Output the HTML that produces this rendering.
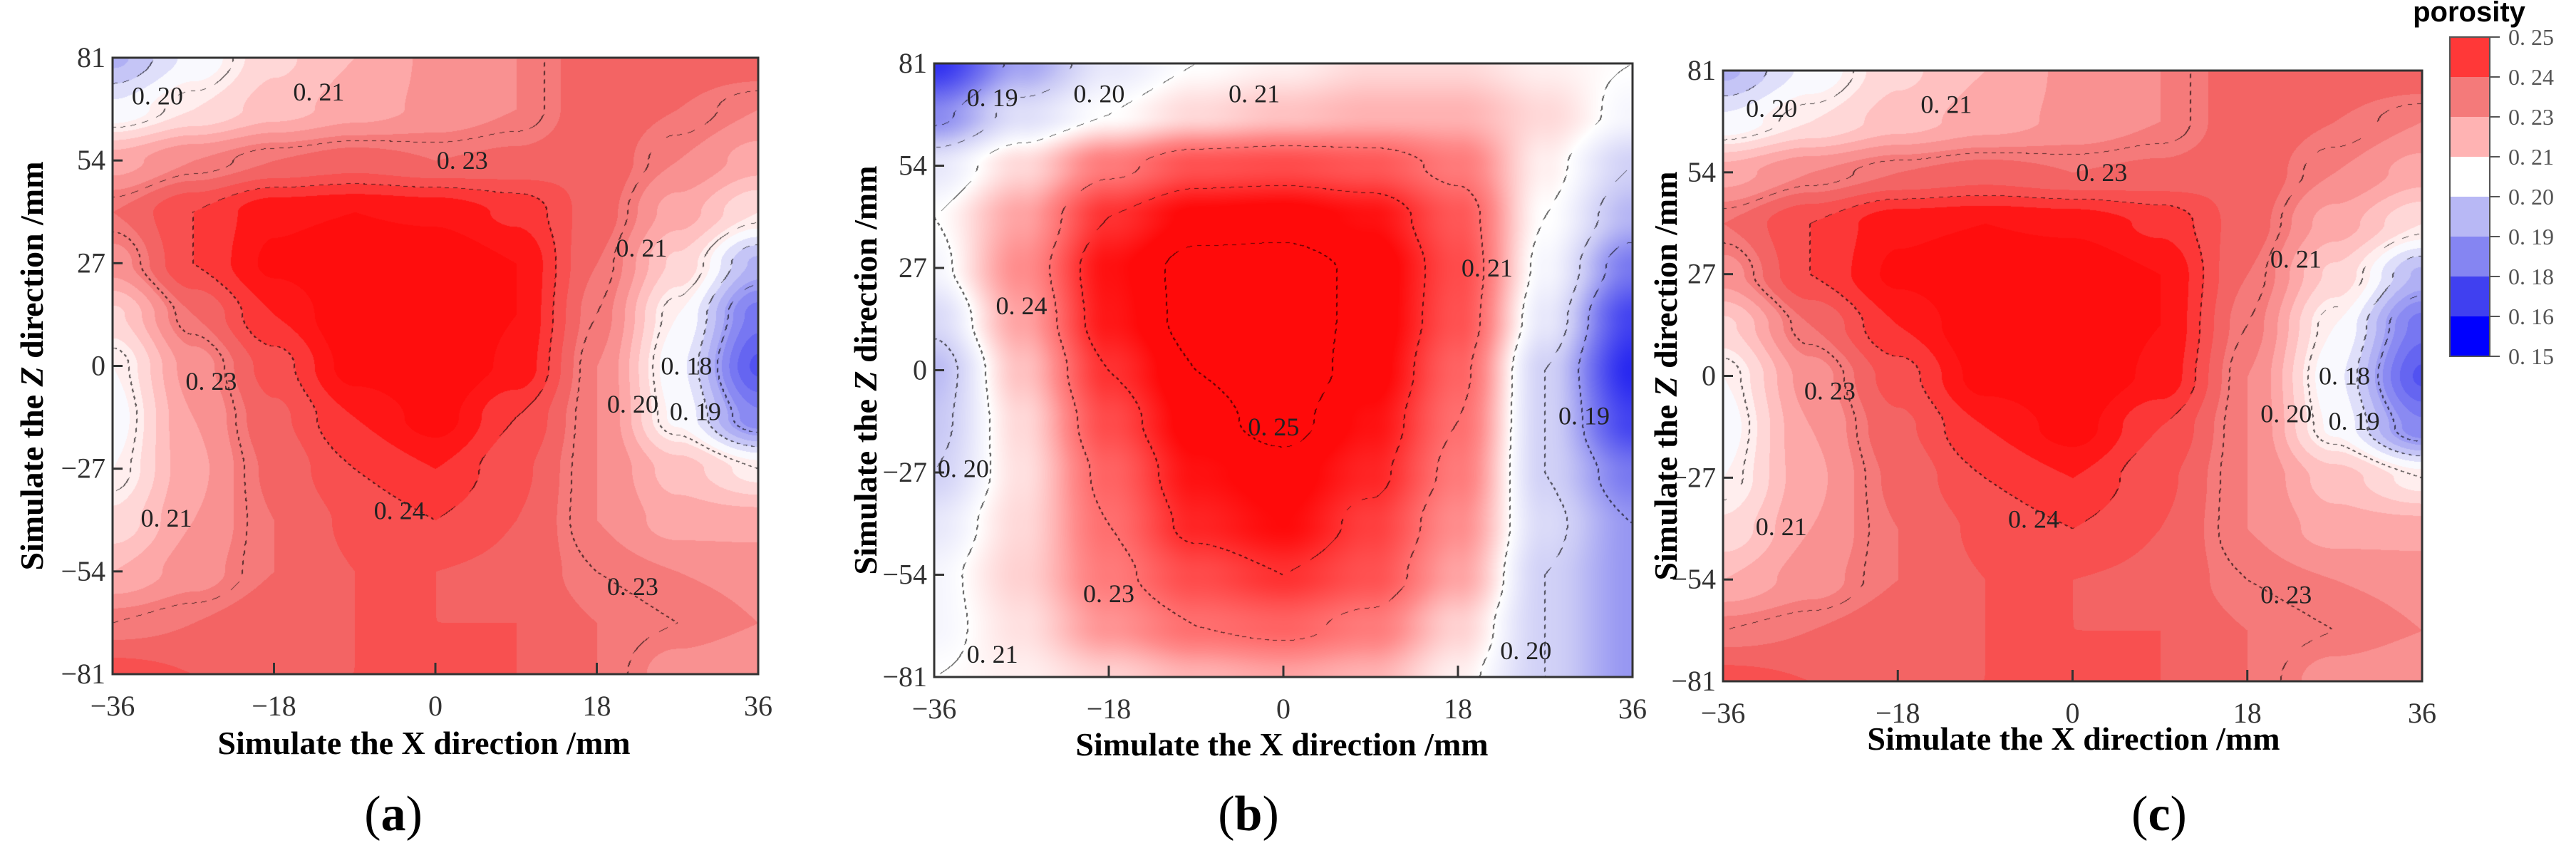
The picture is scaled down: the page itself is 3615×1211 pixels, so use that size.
<!DOCTYPE html>
<html><head><meta charset="utf-8">
<style>
html,body{margin:0;padding:0;background:#fff;}
body{width:3615px;height:1211px;position:relative;overflow:hidden;font-family:"Liberation Serif",serif;}
canvas{position:absolute;}
svg{position:absolute;left:0;top:0;}
</style></head>
<body>
<svg id="svg" width="3615" height="1211"></svg>
<script>
// ---------- data ----------
const xTicks = [-36,-18,0,18,36];
const zTicks = [81,54,27,0,-27,-54,-81];
const gridX = [-36,-27,-18,-9,0,9,18,27,36];
const gridZ = [81,67.5,54,40.5,27,13.5,0,-13.5,-27,-40.5,-54,-67.5,-81];
const porosityA = [
[0.195,0.205,0.215,0.220,0.225,0.228,0.235,0.235,0.235],
[0.205,0.212,0.218,0.222,0.225,0.228,0.235,0.232,0.228],
[0.222,0.228,0.232,0.234,0.232,0.233,0.235,0.228,0.222],
[0.232,0.240,0.247,0.248,0.247,0.243,0.234,0.222,0.212],
[0.226,0.240,0.249,0.252,0.252,0.248,0.232,0.215,0.195],
[0.215,0.232,0.244,0.252,0.252,0.248,0.230,0.208,0.182],
[0.208,0.226,0.238,0.250,0.252,0.247,0.228,0.205,0.175],
[0.206,0.224,0.235,0.244,0.250,0.240,0.228,0.207,0.185],
[0.208,0.223,0.233,0.240,0.244,0.237,0.228,0.218,0.210],
[0.213,0.224,0.232,0.237,0.240,0.236,0.228,0.222,0.222],
[0.220,0.226,0.232,0.236,0.236,0.235,0.230,0.228,0.227],
[0.230,0.232,0.235,0.236,0.236,0.236,0.232,0.230,0.228],
[0.238,0.236,0.236,0.236,0.236,0.236,0.232,0.226,0.224]];
const porosityB = [
[0.172,0.192,0.205,0.210,0.212,0.215,0.215,0.212,0.210],
[0.188,0.203,0.210,0.215,0.218,0.220,0.220,0.215,0.208],
[0.205,0.215,0.228,0.235,0.236,0.234,0.228,0.212,0.200],
[0.210,0.222,0.240,0.247,0.248,0.245,0.234,0.210,0.195],
[0.208,0.225,0.245,0.252,0.252,0.249,0.236,0.208,0.185],
[0.202,0.222,0.244,0.252,0.252,0.249,0.235,0.205,0.175],
[0.196,0.218,0.240,0.250,0.253,0.248,0.232,0.200,0.170],
[0.198,0.215,0.236,0.248,0.252,0.245,0.230,0.200,0.175],
[0.200,0.214,0.232,0.245,0.248,0.242,0.228,0.200,0.185],
[0.205,0.215,0.230,0.242,0.246,0.238,0.225,0.202,0.190],
[0.208,0.216,0.228,0.236,0.240,0.235,0.222,0.200,0.190],
[0.208,0.214,0.224,0.230,0.232,0.228,0.216,0.200,0.190],
[0.210,0.212,0.216,0.220,0.222,0.220,0.212,0.200,0.190]];
const porosityC = porosityA;
const contourLevelsAC = [0.19,0.20,0.21,0.23,0.24];
const contourLevelsB = [0.19,0.20,0.21,0.23,0.24,0.25];
const labelsA = [["0. 20",-31,71],["0. 21",-13,72],["0. 23",3,54],["0. 21",23,31],["0. 18",28,0],["0. 20",22,-10],["0. 19",29,-12],["0. 23",-25,-4],["0. 24",-4,-38],["0. 21",-30,-40],["0. 23",22,-58]];
const labelsB = [["0. 19",-30,72],["0. 20",-19,73],["0. 21",-3,73],["0. 24",-27,17],["0. 21",21,27],["0. 25",-1,-15],["0. 19",31,-12],["0. 20",-33,-26],["0. 23",-18,-59],["0. 21",-30,-75],["0. 20",25,-74]];
const labelsC = labelsA;
const cbValues = [0.25,0.24,0.23,0.21,0.20,0.19,0.18,0.16,0.15];
const cbColors = ["#ff3838","#f47a7a","#ffb3b3","#ffffff","#b8b8f5","#8585f2","#4040f0","#0000ff"];

// ---------- helpers ----------
const NS="http://www.w3.org/2000/svg";
const svg=document.getElementById('svg');
function mk(tag,attrs,parent){const e=document.createElementNS(NS,tag);for(const k in attrs)e.setAttribute(k,attrs[k]);(parent||svg).appendChild(e);return e;}
const stopsQ=[[0.15,[0,0,255]],[0.17,[64,64,240]],[0.185,[133,133,242]],[0.197,[190,190,245]],[0.207,[255,255,255]],[0.22,[255,180,180]],[0.233,[242,105,105]],[0.24,[250,70,70]],[0.244,[255,40,40]],[0.247,[255,13,13]]];
const stopsC=[[0.15,[0,0,255]],[0.17,[40,40,240]],[0.185,[120,120,240]],[0.198,[200,200,245]],[0.21,[255,255,255]],[0.225,[255,140,140]],[0.236,[255,75,75]],[0.246,[255,10,10]]];
function cmap(stops,v){
  if(v<=stops[0][0])return stops[0][1];
  for(let i=1;i<stops.length;i++){if(v<=stops[i][0]){const t=(v-stops[i-1][0])/(stops[i][0]-stops[i-1][0]);const a=stops[i-1][1],b=stops[i][1];return [a[0]+(b[0]-a[0])*t,a[1]+(b[1]-a[1])*t,a[2]+(b[2]-a[2])*t];}}
  return stops[stops.length-1][1];
}
function sample(data,x,z){
  let fx=(x-gridX[0])/(gridX[1]-gridX[0]);let fz=(gridZ[0]-z)/(gridZ[0]-gridZ[1]);
  fx=Math.max(0,Math.min(gridX.length-1.0001,fx));fz=Math.max(0,Math.min(gridZ.length-1.0001,fz));
  const i=Math.floor(fx),j=Math.floor(fz);let tx=fx-i,tz=fz-j;
  tx=tx*tx*(3-2*tx);tz=tz*tz*(3-2*tz);
  const a=data[j][i],b=data[j][i+1],c=data[j+1][i],d=data[j+1][i+1];
  return a*(1-tx)*(1-tz)+b*tx*(1-tz)+c*(1-tx)*tz+d*tx*tz;
}

function panel(name,data,labels,levels,L,R,T,B,quant,letter,letterX,xlabX,xlabY,ylabX){
  const W=R-L,H=B-T;
  const levelIdx=v=>{let k=0;for(const l of levels)if(v>=l)k++;return k;};
  const sx=x=>L+(x+36)/72*W, sz=z=>T+(81-z)/162*H;
  const cv=document.createElement('canvas');cv.width=W;cv.height=H;cv.style.left=L+'px';cv.style.top=T+'px';
  
  
  document.body.insertBefore(cv,svg);
  const ctx=cv.getContext('2d');const img=ctx.createImageData(W,H);
  const vals=new Float32Array(W*H);
  for(let py=0;py<H;py++){const z=81-py/H*162;for(let px=0;px<W;px++){const x=-36+px/W*72;vals[py*W+px]=sample(data,x,z);}}
  for(let py=0;py<H;py++)for(let px=0;px<W;px++){
    let v=vals[py*W+px];
    let c;
    if(quant){v=Math.floor(v/0.004)*0.004+0.002;c=cmap(stopsQ,v);}else c=cmap(stopsC,v);
    const k=levelIdx(vals[py*W+px]);
    let edge=false;
    if(px+1<W&&levelIdx(vals[py*W+px+1])!==k)edge=true;
    if(py+1<H&&levelIdx(vals[(py+1)*W+px])!==k)edge=true;
    if(px+2<W&&levelIdx(vals[py*W+px+2])!==k)edge=true;
    if(edge&&((px+py)%12)<6)c=[c[0]*0.35,c[1]*0.35,c[2]*0.35];
    const o=(py*W+px)*4;img.data[o]=c[0];img.data[o+1]=c[1];img.data[o+2]=c[2];img.data[o+3]=255;
  }
  ctx.putImageData(img,0,0);
  const g=mk('g',{});
  
  
  const fr=mk('rect',{x:L,y:T,width:W,height:H,fill:'none',stroke:'#333','stroke-width':3},g);
  
  
  for(const t of xTicks){
    const tk=mk('line',{x1:sx(t),x2:sx(t),y1:B,y2:B-16,stroke:'#333','stroke-width':3},g);
    
    
    const tl=mk('text',{x:sx(t),y:B+58,'text-anchor':'middle','font-size':40,fill:'#333'},g);tl.textContent=t<0?'\u2212'+(-t):String(t);
    
    
  }
  for(const t of zTicks){
    const tk=mk('line',{x1:L,x2:L+14,y1:sz(t),y2:sz(t),stroke:'#333','stroke-width':3},g);
    
    
    const tl=mk('text',{x:L-10,y:sz(t)+13,'text-anchor':'end','font-size':40,fill:'#333'},g);tl.textContent=t<0?'\u2212'+(-t):String(t);
    
    
  }
  for(const lb of labels){
    const t=mk('text',{x:sx(lb[1]),y:sz(lb[2])+12,'text-anchor':'middle','font-size':36,fill:'#222'},g);t.textContent=lb[0];
    
    
  }
  const xl=mk('text',{x:xlabX,y:xlabY,'text-anchor':'middle','font-size':46,'font-weight':'bold',fill:'#000'},g);xl.textContent='Simulate the X direction /mm';
  
  
  const cy=(T+B)/2;
  const yl=mk('text',{x:ylabX,y:cy,'text-anchor':'middle','font-size':46,'font-weight':'bold',fill:'#000',transform:`rotate(-90 ${ylabX} ${cy})`},g);
  yl.innerHTML='Simulate the <tspan font-style="italic">Z</tspan> direction /mm';
  
  
  const pl=mk('text',{x:letterX,y:1165,'text-anchor':'middle','font-size':70,fill:'#000'},g);
  pl.innerHTML='(<tspan font-weight="bold">'+letter+'</tspan>)';
  
  
}
panel('panel-a',porosityA,labelsA,contourLevelsAC,158,1064,81,946,true,'a',552,595,1058,60);
panel('panel-b',porosityB,labelsB,contourLevelsB,1311,2291,89,950,false,'b',1752,1799,1060,1230);
panel('panel-c',porosityC,labelsC,contourLevelsAC,2418,3399,99,956,true,'c',3030,2910,1052,2353);

// colorbar
const cbL=3438,cbR=3494,cbT=52,cbB=500;
const cbY=i=>cbT+(cbB-cbT)*i/(cbValues.length-1);
const cbg=mk('g',{});


for(let i=0;i<cbColors.length;i++){
  const r=mk('rect',{x:cbL,y:cbY(i),width:cbR-cbL,height:cbY(i+1)-cbY(i),fill:cbColors[i]},cbg);
  
  
}
mk('rect',{x:cbL,y:cbT,width:cbR-cbL,height:cbB-cbT,fill:'none',stroke:'#555','stroke-width':2},cbg);
for(let i=0;i<cbValues.length;i++){
  const tk=mk('line',{x1:cbR,x2:cbR+14,y1:cbY(i),y2:cbY(i),stroke:'#555','stroke-width':2},cbg);
  
  
  const t=mk('text',{x:3520,y:cbY(i)+11,'font-size':32,fill:'#555'},cbg);
  t.textContent=cbValues[i].toFixed(2).replace('.','. ');
  
  
}
const ct=mk('text',{x:3465,y:30,'text-anchor':'middle','font-size':40,'font-weight':'bold','font-family':'Liberation Sans, sans-serif',fill:'#000'},cbg);
ct.textContent='porosity';


</script>
</body></html>
